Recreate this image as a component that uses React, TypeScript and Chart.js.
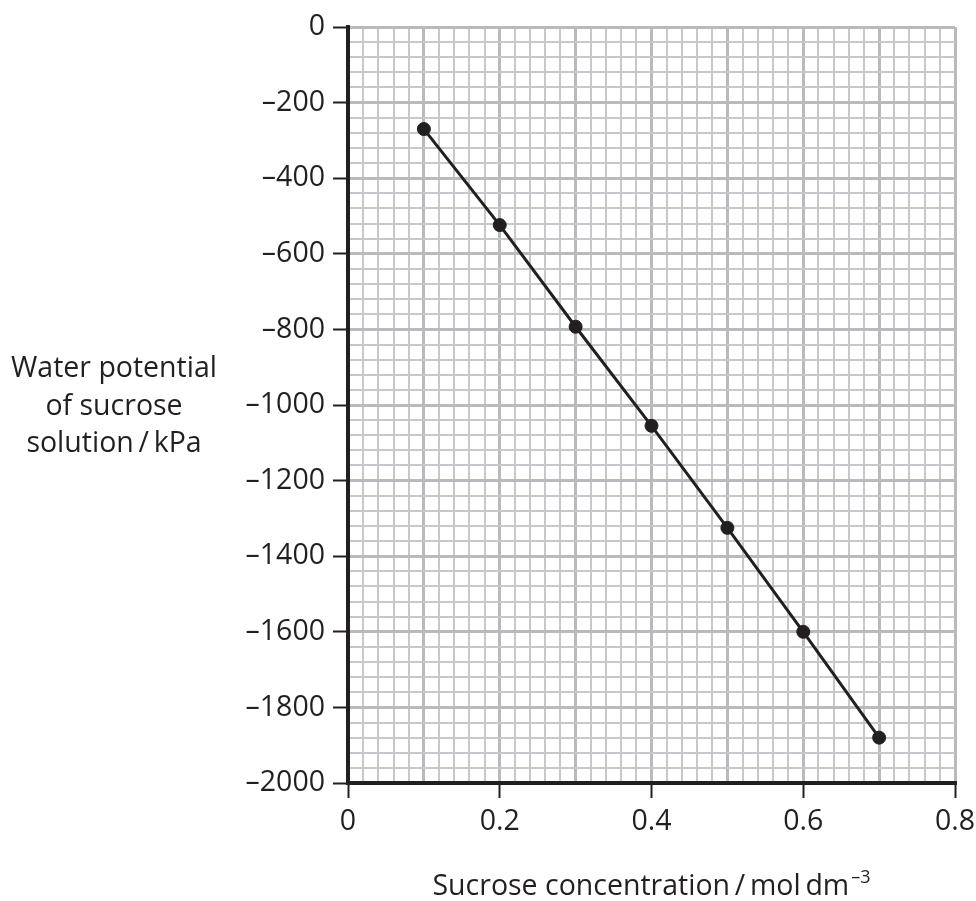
import React, { useEffect, useRef } from 'react';
import { Chart, registerables } from 'chart.js';

Chart.register(...registerables);

// ---- data ----
const concentration = [0.1, 0.2, 0.3, 0.4, 0.5, 0.6, 0.7];
const waterPotential = [-270, -524, -793, -1055, -1325, -1600, -1880];

const xMin = 0;
const xMax = 0.8;
const xMinorStep = 0.02;
const xMajorStep = 0.1;
const xLabelStep = 0.2;

const yMin = -2000;
const yMax = 0;
const yMinorStep = 40;
const yMajorStep = 200;
const yLabelStep = 200;

const yTitleLines = ['Water potential', 'of sucrose', 'solution\u2009/\u2009kPa'];
const xTitleMain = 'Sucrose concentration\u2009/\u2009mol\u2009dm';
const xTitleSup = '\u20133';

// ---- styles ----
const INK = '#231f20';
const MAJOR = '#b9babe';
const MINOR = '#c7c8cb';
const FONT = '"Open Sans", "Noto Sans", sans-serif';
const FONT_SIZE = 28.5;

const isMultiple = (v: number, step: number) => {
  const r = v / step;
  return Math.abs(r - Math.round(r)) < 1e-6;
};

const fmtX = (v: number) => {
  const r = Math.round(v * 10) / 10;
  return r === 0 ? '0' : String(r);
};
const fmtY = (v: number) => {
  const r = Math.round(v);
  return r === 0 ? '0' : (r < 0 ? '\u2013' + Math.abs(r) : String(r));
};

const titlesPlugin = {
  id: 'axisTitles',
  afterDraw(chart: any) {
    const { ctx, chartArea } = chart;
    ctx.save();
    ctx.fillStyle = INK;
    ctx.textBaseline = 'alphabetic';
    // y title (horizontal, three lines)
    ctx.font = `${FONT_SIZE}px ${FONT}`;
    ctx.textAlign = 'center';
    const midY = (chartArea.top + chartArea.bottom) / 2;
    const cx = 114;
    yTitleLines.forEach((line, i) => {
      ctx.fillText(line, cx, midY - 28 + i * 37.5);
    });
    // x title with superscript
    ctx.textAlign = 'left';
    ctx.font = `${FONT_SIZE}px ${FONT}`;
    const mainW = ctx.measureText(xTitleMain).width;
    ctx.font = `18px ${FONT}`;
    const supW = ctx.measureText(xTitleSup).width;
    const gap = 2;
    const total = mainW + gap + supW;
    const cxX = (chartArea.left + chartArea.right) / 2;
    const startX = cxX - total / 2;
    const baseY = chartArea.bottom + 112;
    ctx.font = `${FONT_SIZE}px ${FONT}`;
    ctx.fillText(xTitleMain, startX, baseY);
    ctx.font = `18px ${FONT}`;
    ctx.fillText(xTitleSup, startX + mainW + gap, baseY - 12);
    ctx.restore();
  },
};

export default function App() {
  const canvasRef = useRef<HTMLCanvasElement | null>(null);

  useEffect(() => {
    const canvas = canvasRef.current;
    if (!canvas) return;
    const chart = new Chart(canvas, {
      type: 'line',
      data: {
        datasets: [
          {
            data: concentration.map((x, i) => ({ x, y: waterPotential[i] })),
            borderColor: INK,
            borderWidth: 3,
            backgroundColor: INK,
            pointBackgroundColor: INK,
            pointBorderColor: INK,
            pointBorderWidth: 1,
            pointRadius: 6.5,
            tension: 0,
            fill: false,
            clip: false as any,
          },
        ],
      },
      options: {
        animation: false,
        responsive: false,
        devicePixelRatio: 1,
        layout: { padding: { left: 0, right: 21, top: 27, bottom: 0 } },
        plugins: {
          legend: { display: false },
          tooltip: { enabled: false },
          title: { display: false },
        },
        scales: {
          x: {
            type: 'linear',
            min: xMin,
            max: xMax,
            afterFit: (scale: any) => {
              scale.height = 118;
              scale.paddingLeft = 0;
              scale.paddingRight = 0;
            },
            ticks: {
              stepSize: xMinorStep,
              autoSkip: false,
              maxRotation: 0,
              minRotation: 0,
              padding: 7,
              color: INK,
              font: { family: FONT, size: FONT_SIZE },
              callback: (v: any) => (isMultiple(Number(v), xLabelStep) ? fmtX(Number(v)) : ''),
            },
            grid: {
              color: (c: any) => (isMultiple(c.tick.value, xMajorStep) ? MAJOR : MINOR),
              lineWidth: (c: any) => (isMultiple(c.tick.value, xMajorStep) ? 3 : 2),
              tickColor: (c: any) => (isMultiple(c.tick.value, xLabelStep) ? INK : 'transparent'),
              tickLength: 15,
              tickWidth: 2,
              drawTicks: true,
            },
            border: { display: true, color: INK, width: 4 },
          },
          y: {
            type: 'linear',
            min: yMin,
            max: yMax,
            afterFit: (scale: any) => {
              scale.width = 348;
              scale.paddingTop = 0;
              scale.paddingBottom = 0;
            },
            ticks: {
              stepSize: yMinorStep,
              autoSkip: false,
              padding: 8,
              color: INK,
              font: { family: FONT, size: FONT_SIZE },
              callback: (v: any) => (isMultiple(Number(v), yLabelStep) ? fmtY(Number(v)) : ''),
            },
            grid: {
              color: (c: any) => (isMultiple(c.tick.value, yMajorStep) ? MAJOR : MINOR),
              lineWidth: (c: any) => (isMultiple(c.tick.value, yMajorStep) ? 3 : 2),
              tickColor: (c: any) => (isMultiple(c.tick.value, yLabelStep) ? INK : 'transparent'),
              tickLength: 15,
              tickWidth: 2,
              drawTicks: true,
            },
            border: { display: true, color: INK, width: 4 },
          },
        },
      },
      plugins: [titlesPlugin],
    });
    return () => chart.destroy();
  }, []);

  return (
    <div style={{ position: 'absolute', left: 0, top: 0, width: 976, height: 901, background: '#fff' }}>
      <canvas ref={canvasRef} width={976} height={901} style={{ width: 976, height: 901, display: 'block' }} />
    </div>
  );
}
